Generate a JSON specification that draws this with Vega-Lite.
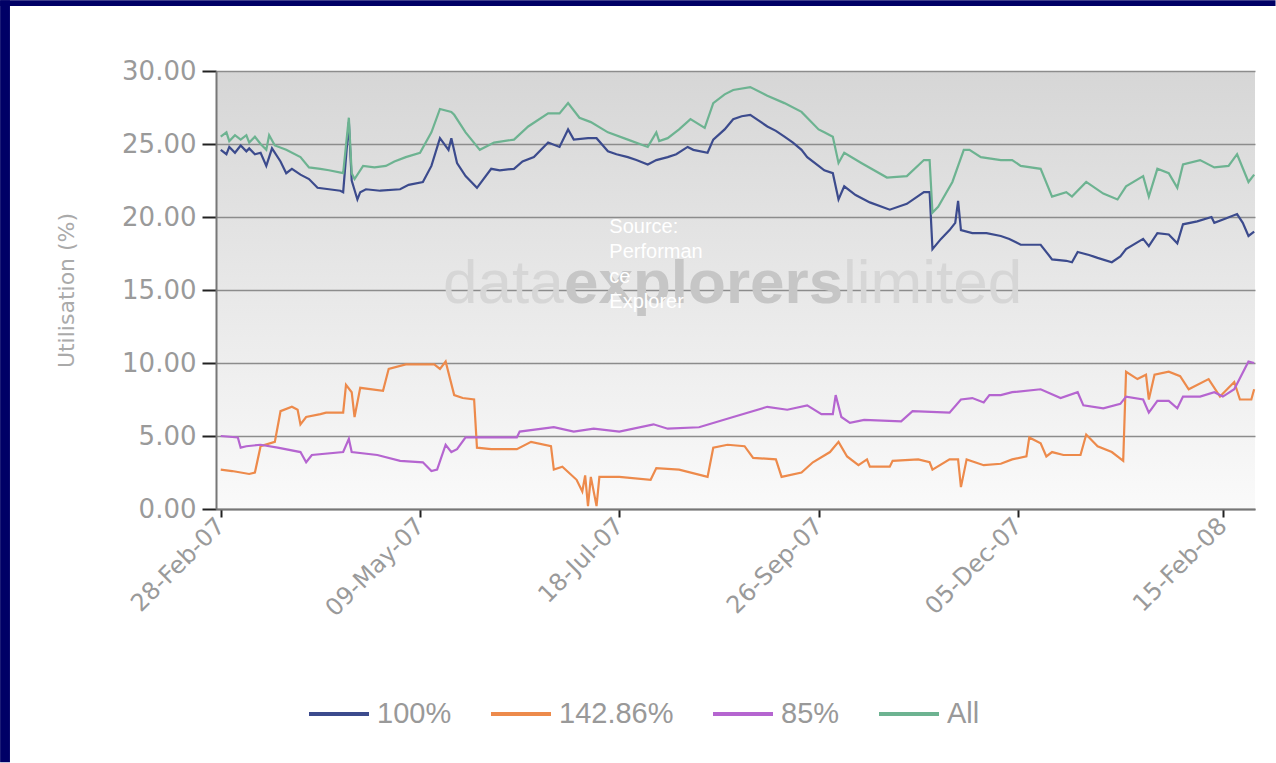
{
  "$schema": "https://vega.github.io/schema/vega-lite/v6.json",
  "autosize": {"type": "none"},
  "width": 1039,
  "height": 438,
  "padding": {"left": 216, "top": 71, "right": 21, "bottom": 254},
  "background": "#ffffff",
  "view": {"stroke": null, "fill": {"gradient": "linear", "x1": 0, "y1": 0, "x2": 0, "y2": 1, "stops": [{"offset": 0, "color": "#d6d6d6"}, {"offset": 0.5, "color": "#e8e8e8"}, {"offset": 1, "color": "#fafafa"}]}},
  "data": {"values": [
    {"s":"100%","d":"2007-02-28","v":24.6},{"s":"100%","d":"2007-03-02","v":24.3},{"s":"100%","d":"2007-03-03","v":24.8},{"s":"100%","d":"2007-03-05","v":24.4},{"s":"100%","d":"2007-03-07","v":24.9},{"s":"100%","d":"2007-03-09","v":24.5},{"s":"100%","d":"2007-03-10","v":24.7},{"s":"100%","d":"2007-03-12","v":24.3},{"s":"100%","d":"2007-03-14","v":24.4},{"s":"100%","d":"2007-03-16","v":23.5},{"s":"100%","d":"2007-03-18","v":24.7},{"s":"100%","d":"2007-03-21","v":23.8},{"s":"100%","d":"2007-03-23","v":23.0},{"s":"100%","d":"2007-03-25","v":23.3},{"s":"100%","d":"2007-03-28","v":22.9},{"s":"100%","d":"2007-03-31","v":22.6},{"s":"100%","d":"2007-04-03","v":22.0},{"s":"100%","d":"2007-04-07","v":21.9},{"s":"100%","d":"2007-04-11","v":21.8},{"s":"100%","d":"2007-04-12","v":21.7},{"s":"100%","d":"2007-04-14","v":26.5},{"s":"100%","d":"2007-04-15","v":22.5},{"s":"100%","d":"2007-04-17","v":21.2},{"s":"100%","d":"2007-04-18","v":21.7},{"s":"100%","d":"2007-04-20","v":21.9},{"s":"100%","d":"2007-04-25","v":21.8},{"s":"100%","d":"2007-05-02","v":21.9},{"s":"100%","d":"2007-05-05","v":22.2},{"s":"100%","d":"2007-05-10","v":22.4},{"s":"100%","d":"2007-05-13","v":23.5},{"s":"100%","d":"2007-05-16","v":25.4},{"s":"100%","d":"2007-05-19","v":24.6},{"s":"100%","d":"2007-05-20","v":25.4},{"s":"100%","d":"2007-05-22","v":23.7},{"s":"100%","d":"2007-05-25","v":22.8},{"s":"100%","d":"2007-05-29","v":22.0},{"s":"100%","d":"2007-06-03","v":23.3},{"s":"100%","d":"2007-06-06","v":23.2},{"s":"100%","d":"2007-06-11","v":23.3},{"s":"100%","d":"2007-06-14","v":23.8},{"s":"100%","d":"2007-06-18","v":24.1},{"s":"100%","d":"2007-06-23","v":25.1},{"s":"100%","d":"2007-06-27","v":24.8},{"s":"100%","d":"2007-06-30","v":26.0},{"s":"100%","d":"2007-07-02","v":25.3},{"s":"100%","d":"2007-07-07","v":25.4},{"s":"100%","d":"2007-07-10","v":25.4},{"s":"100%","d":"2007-07-14","v":24.5},{"s":"100%","d":"2007-07-17","v":24.3},{"s":"100%","d":"2007-07-21","v":24.1},{"s":"100%","d":"2007-07-24","v":23.9},{"s":"100%","d":"2007-07-28","v":23.6},{"s":"100%","d":"2007-07-31","v":23.9},{"s":"100%","d":"2007-08-04","v":24.1},{"s":"100%","d":"2007-08-07","v":24.3},{"s":"100%","d":"2007-08-11","v":24.8},{"s":"100%","d":"2007-08-13","v":24.6},{"s":"100%","d":"2007-08-18","v":24.4},{"s":"100%","d":"2007-08-20","v":25.3},{"s":"100%","d":"2007-08-24","v":26.0},{"s":"100%","d":"2007-08-27","v":26.7},{"s":"100%","d":"2007-08-30","v":26.9},{"s":"100%","d":"2007-09-02","v":27.0},{"s":"100%","d":"2007-09-05","v":26.6},{"s":"100%","d":"2007-09-08","v":26.2},{"s":"100%","d":"2007-09-11","v":25.9},{"s":"100%","d":"2007-09-14","v":25.5},{"s":"100%","d":"2007-09-17","v":25.1},{"s":"100%","d":"2007-09-20","v":24.6},{"s":"100%","d":"2007-09-22","v":24.1},{"s":"100%","d":"2007-09-26","v":23.5},{"s":"100%","d":"2007-09-28","v":23.2},{"s":"100%","d":"2007-10-01","v":23.0},{"s":"100%","d":"2007-10-03","v":21.2},{"s":"100%","d":"2007-10-05","v":22.1},{"s":"100%","d":"2007-10-09","v":21.5},{"s":"100%","d":"2007-10-14","v":21.0},{"s":"100%","d":"2007-10-21","v":20.5},{"s":"100%","d":"2007-10-27","v":20.9},{"s":"100%","d":"2007-11-02","v":21.7},{"s":"100%","d":"2007-11-04","v":21.7},{"s":"100%","d":"2007-11-05","v":17.8},{"s":"100%","d":"2007-11-08","v":18.5},{"s":"100%","d":"2007-11-11","v":19.1},{"s":"100%","d":"2007-11-13","v":19.6},{"s":"100%","d":"2007-11-14","v":21.1},{"s":"100%","d":"2007-11-15","v":19.1},{"s":"100%","d":"2007-11-19","v":18.9},{"s":"100%","d":"2007-11-24","v":18.9},{"s":"100%","d":"2007-11-29","v":18.7},{"s":"100%","d":"2007-12-02","v":18.5},{"s":"100%","d":"2007-12-06","v":18.1},{"s":"100%","d":"2007-12-13","v":18.1},{"s":"100%","d":"2007-12-17","v":17.1},{"s":"100%","d":"2007-12-22","v":17.0},{"s":"100%","d":"2007-12-24","v":16.9},{"s":"100%","d":"2007-12-26","v":17.6},{"s":"100%","d":"2007-12-30","v":17.4},{"s":"100%","d":"2008-01-02","v":17.2},{"s":"100%","d":"2008-01-07","v":16.9},{"s":"100%","d":"2008-01-10","v":17.3},{"s":"100%","d":"2008-01-12","v":17.8},{"s":"100%","d":"2008-01-18","v":18.5},{"s":"100%","d":"2008-01-20","v":18.0},{"s":"100%","d":"2008-01-23","v":18.9},{"s":"100%","d":"2008-01-27","v":18.8},{"s":"100%","d":"2008-01-30","v":18.2},{"s":"100%","d":"2008-02-01","v":19.5},{"s":"100%","d":"2008-02-06","v":19.7},{"s":"100%","d":"2008-02-11","v":20.0},{"s":"100%","d":"2008-02-12","v":19.6},{"s":"100%","d":"2008-02-16","v":19.9},{"s":"100%","d":"2008-02-20","v":20.2},{"s":"100%","d":"2008-02-22","v":19.6},{"s":"100%","d":"2008-02-24","v":18.7},{"s":"100%","d":"2008-02-26","v":19.0},
    {"s":"All","d":"2007-02-28","v":25.5},{"s":"All","d":"2007-03-02","v":25.8},{"s":"All","d":"2007-03-03","v":25.2},{"s":"All","d":"2007-03-05","v":25.6},{"s":"All","d":"2007-03-07","v":25.3},{"s":"All","d":"2007-03-09","v":25.6},{"s":"All","d":"2007-03-10","v":25.1},{"s":"All","d":"2007-03-12","v":25.5},{"s":"All","d":"2007-03-14","v":25.0},{"s":"All","d":"2007-03-16","v":24.6},{"s":"All","d":"2007-03-17","v":25.6},{"s":"All","d":"2007-03-19","v":24.9},{"s":"All","d":"2007-03-23","v":24.6},{"s":"All","d":"2007-03-28","v":24.1},{"s":"All","d":"2007-03-31","v":23.4},{"s":"All","d":"2007-04-04","v":23.3},{"s":"All","d":"2007-04-07","v":23.2},{"s":"All","d":"2007-04-12","v":23.0},{"s":"All","d":"2007-04-14","v":26.8},{"s":"All","d":"2007-04-15","v":23.0},{"s":"All","d":"2007-04-16","v":22.6},{"s":"All","d":"2007-04-19","v":23.5},{"s":"All","d":"2007-04-23","v":23.4},{"s":"All","d":"2007-04-27","v":23.5},{"s":"All","d":"2007-04-30","v":23.8},{"s":"All","d":"2007-05-04","v":24.1},{"s":"All","d":"2007-05-09","v":24.4},{"s":"All","d":"2007-05-13","v":25.8},{"s":"All","d":"2007-05-16","v":27.4},{"s":"All","d":"2007-05-20","v":27.2},{"s":"All","d":"2007-05-21","v":27.0},{"s":"All","d":"2007-05-25","v":25.8},{"s":"All","d":"2007-05-30","v":24.6},{"s":"All","d":"2007-06-04","v":25.1},{"s":"All","d":"2007-06-11","v":25.3},{"s":"All","d":"2007-06-16","v":26.2},{"s":"All","d":"2007-06-23","v":27.1},{"s":"All","d":"2007-06-27","v":27.1},{"s":"All","d":"2007-06-30","v":27.8},{"s":"All","d":"2007-07-04","v":26.8},{"s":"All","d":"2007-07-08","v":26.5},{"s":"All","d":"2007-07-14","v":25.8},{"s":"All","d":"2007-07-21","v":25.3},{"s":"All","d":"2007-07-28","v":24.8},{"s":"All","d":"2007-07-31","v":25.8},{"s":"All","d":"2007-08-01","v":25.2},{"s":"All","d":"2007-08-04","v":25.4},{"s":"All","d":"2007-08-08","v":26.0},{"s":"All","d":"2007-08-12","v":26.7},{"s":"All","d":"2007-08-17","v":26.1},{"s":"All","d":"2007-08-20","v":27.8},{"s":"All","d":"2007-08-24","v":28.4},{"s":"All","d":"2007-08-27","v":28.7},{"s":"All","d":"2007-09-02","v":28.9},{"s":"All","d":"2007-09-08","v":28.3},{"s":"All","d":"2007-09-14","v":27.8},{"s":"All","d":"2007-09-20","v":27.2},{"s":"All","d":"2007-09-26","v":26.0},{"s":"All","d":"2007-09-28","v":25.8},{"s":"All","d":"2007-10-01","v":25.5},{"s":"All","d":"2007-10-03","v":23.7},{"s":"All","d":"2007-10-05","v":24.4},{"s":"All","d":"2007-10-11","v":23.7},{"s":"All","d":"2007-10-20","v":22.7},{"s":"All","d":"2007-10-27","v":22.8},{"s":"All","d":"2007-11-02","v":23.9},{"s":"All","d":"2007-11-04","v":23.9},{"s":"All","d":"2007-11-05","v":20.3},{"s":"All","d":"2007-11-07","v":20.7},{"s":"All","d":"2007-11-12","v":22.4},{"s":"All","d":"2007-11-16","v":24.6},{"s":"All","d":"2007-11-18","v":24.6},{"s":"All","d":"2007-11-22","v":24.1},{"s":"All","d":"2007-11-29","v":23.9},{"s":"All","d":"2007-12-03","v":23.9},{"s":"All","d":"2007-12-06","v":23.5},{"s":"All","d":"2007-12-13","v":23.3},{"s":"All","d":"2007-12-17","v":21.4},{"s":"All","d":"2007-12-22","v":21.7},{"s":"All","d":"2007-12-24","v":21.4},{"s":"All","d":"2007-12-29","v":22.4},{"s":"All","d":"2008-01-04","v":21.6},{"s":"All","d":"2008-01-09","v":21.2},{"s":"All","d":"2008-01-12","v":22.1},{"s":"All","d":"2008-01-18","v":22.8},{"s":"All","d":"2008-01-20","v":21.4},{"s":"All","d":"2008-01-23","v":23.3},{"s":"All","d":"2008-01-27","v":23.0},{"s":"All","d":"2008-01-30","v":22.0},{"s":"All","d":"2008-02-01","v":23.6},{"s":"All","d":"2008-02-07","v":23.9},{"s":"All","d":"2008-02-12","v":23.4},{"s":"All","d":"2008-02-17","v":23.5},{"s":"All","d":"2008-02-20","v":24.3},{"s":"All","d":"2008-02-24","v":22.4},{"s":"All","d":"2008-02-26","v":22.9},
    {"s":"142.86%","d":"2007-02-28","v":2.7},{"s":"142.86%","d":"2007-03-04","v":2.6},{"s":"142.86%","d":"2007-03-10","v":2.4},{"s":"142.86%","d":"2007-03-12","v":2.5},{"s":"142.86%","d":"2007-03-14","v":4.3},{"s":"142.86%","d":"2007-03-19","v":4.6},{"s":"142.86%","d":"2007-03-21","v":6.7},{"s":"142.86%","d":"2007-03-25","v":7.0},{"s":"142.86%","d":"2007-03-27","v":6.8},{"s":"142.86%","d":"2007-03-28","v":5.8},{"s":"142.86%","d":"2007-03-30","v":6.3},{"s":"142.86%","d":"2007-04-04","v":6.5},{"s":"142.86%","d":"2007-04-06","v":6.6},{"s":"142.86%","d":"2007-04-12","v":6.6},{"s":"142.86%","d":"2007-04-13","v":8.5},{"s":"142.86%","d":"2007-04-15","v":8.0},{"s":"142.86%","d":"2007-04-16","v":6.3},{"s":"142.86%","d":"2007-04-18","v":8.3},{"s":"142.86%","d":"2007-04-26","v":8.1},{"s":"142.86%","d":"2007-04-28","v":9.6},{"s":"142.86%","d":"2007-05-04","v":9.9},{"s":"142.86%","d":"2007-05-14","v":9.9},{"s":"142.86%","d":"2007-05-16","v":9.6},{"s":"142.86%","d":"2007-05-18","v":10.1},{"s":"142.86%","d":"2007-05-21","v":7.8},{"s":"142.86%","d":"2007-05-24","v":7.6},{"s":"142.86%","d":"2007-05-28","v":7.5},{"s":"142.86%","d":"2007-05-29","v":4.2},{"s":"142.86%","d":"2007-06-03","v":4.1},{"s":"142.86%","d":"2007-06-12","v":4.1},{"s":"142.86%","d":"2007-06-17","v":4.6},{"s":"142.86%","d":"2007-06-24","v":4.3},{"s":"142.86%","d":"2007-06-25","v":2.7},{"s":"142.86%","d":"2007-06-28","v":2.9},{"s":"142.86%","d":"2007-07-03","v":2.0},{"s":"142.86%","d":"2007-07-05","v":1.2},{"s":"142.86%","d":"2007-07-06","v":2.3},{"s":"142.86%","d":"2007-07-07","v":0.2},{"s":"142.86%","d":"2007-07-08","v":2.2},{"s":"142.86%","d":"2007-07-10","v":0.2},{"s":"142.86%","d":"2007-07-11","v":2.2},{"s":"142.86%","d":"2007-07-18","v":2.2},{"s":"142.86%","d":"2007-07-29","v":2.0},{"s":"142.86%","d":"2007-07-31","v":2.8},{"s":"142.86%","d":"2007-08-08","v":2.7},{"s":"142.86%","d":"2007-08-18","v":2.2},{"s":"142.86%","d":"2007-08-20","v":4.2},{"s":"142.86%","d":"2007-08-25","v":4.4},{"s":"142.86%","d":"2007-08-31","v":4.3},{"s":"142.86%","d":"2007-09-03","v":3.5},{"s":"142.86%","d":"2007-09-11","v":3.4},{"s":"142.86%","d":"2007-09-13","v":2.2},{"s":"142.86%","d":"2007-09-20","v":2.5},{"s":"142.86%","d":"2007-09-24","v":3.2},{"s":"142.86%","d":"2007-09-30","v":3.9},{"s":"142.86%","d":"2007-10-03","v":4.6},{"s":"142.86%","d":"2007-10-06","v":3.6},{"s":"142.86%","d":"2007-10-10","v":3.0},{"s":"142.86%","d":"2007-10-13","v":3.4},{"s":"142.86%","d":"2007-10-14","v":2.9},{"s":"142.86%","d":"2007-10-21","v":2.9},{"s":"142.86%","d":"2007-10-22","v":3.3},{"s":"142.86%","d":"2007-10-31","v":3.4},{"s":"142.86%","d":"2007-11-04","v":3.2},{"s":"142.86%","d":"2007-11-05","v":2.7},{"s":"142.86%","d":"2007-11-11","v":3.4},{"s":"142.86%","d":"2007-11-14","v":3.4},{"s":"142.86%","d":"2007-11-15","v":1.5},{"s":"142.86%","d":"2007-11-17","v":3.4},{"s":"142.86%","d":"2007-11-23","v":3.0},{"s":"142.86%","d":"2007-11-29","v":3.1},{"s":"142.86%","d":"2007-12-03","v":3.4},{"s":"142.86%","d":"2007-12-08","v":3.6},{"s":"142.86%","d":"2007-12-09","v":4.9},{"s":"142.86%","d":"2007-12-13","v":4.5},{"s":"142.86%","d":"2007-12-15","v":3.6},{"s":"142.86%","d":"2007-12-17","v":3.9},{"s":"142.86%","d":"2007-12-21","v":3.7},{"s":"142.86%","d":"2007-12-27","v":3.7},{"s":"142.86%","d":"2007-12-29","v":5.1},{"s":"142.86%","d":"2008-01-02","v":4.3},{"s":"142.86%","d":"2008-01-07","v":3.9},{"s":"142.86%","d":"2008-01-11","v":3.3},{"s":"142.86%","d":"2008-01-12","v":9.4},{"s":"142.86%","d":"2008-01-16","v":8.9},{"s":"142.86%","d":"2008-01-19","v":9.2},{"s":"142.86%","d":"2008-01-20","v":7.5},{"s":"142.86%","d":"2008-01-22","v":9.2},{"s":"142.86%","d":"2008-01-27","v":9.4},{"s":"142.86%","d":"2008-01-31","v":9.1},{"s":"142.86%","d":"2008-02-03","v":8.2},{"s":"142.86%","d":"2008-02-10","v":8.9},{"s":"142.86%","d":"2008-02-14","v":7.7},{"s":"142.86%","d":"2008-02-19","v":8.7},{"s":"142.86%","d":"2008-02-21","v":7.5},{"s":"142.86%","d":"2008-02-25","v":7.5},{"s":"142.86%","d":"2008-02-26","v":8.2},
    {"s":"85%","d":"2007-02-28","v":5.0},{"s":"85%","d":"2007-03-06","v":4.9},{"s":"85%","d":"2007-03-07","v":4.2},{"s":"85%","d":"2007-03-09","v":4.3},{"s":"85%","d":"2007-03-14","v":4.4},{"s":"85%","d":"2007-03-20","v":4.2},{"s":"85%","d":"2007-03-28","v":3.9},{"s":"85%","d":"2007-03-30","v":3.2},{"s":"85%","d":"2007-04-01","v":3.7},{"s":"85%","d":"2007-04-12","v":3.9},{"s":"85%","d":"2007-04-14","v":4.8},{"s":"85%","d":"2007-04-15","v":3.9},{"s":"85%","d":"2007-04-24","v":3.7},{"s":"85%","d":"2007-05-02","v":3.3},{"s":"85%","d":"2007-05-10","v":3.2},{"s":"85%","d":"2007-05-13","v":2.6},{"s":"85%","d":"2007-05-15","v":2.7},{"s":"85%","d":"2007-05-18","v":4.4},{"s":"85%","d":"2007-05-20","v":3.9},{"s":"85%","d":"2007-05-22","v":4.1},{"s":"85%","d":"2007-05-25","v":4.9},{"s":"85%","d":"2007-05-29","v":4.9},{"s":"85%","d":"2007-06-12","v":4.9},{"s":"85%","d":"2007-06-13","v":5.3},{"s":"85%","d":"2007-06-25","v":5.6},{"s":"85%","d":"2007-07-02","v":5.3},{"s":"85%","d":"2007-07-09","v":5.5},{"s":"85%","d":"2007-07-18","v":5.3},{"s":"85%","d":"2007-07-30","v":5.8},{"s":"85%","d":"2007-08-04","v":5.5},{"s":"85%","d":"2007-08-15","v":5.6},{"s":"85%","d":"2007-08-27","v":6.3},{"s":"85%","d":"2007-09-08","v":7.0},{"s":"85%","d":"2007-09-15","v":6.8},{"s":"85%","d":"2007-09-22","v":7.1},{"s":"85%","d":"2007-09-27","v":6.5},{"s":"85%","d":"2007-10-01","v":6.5},{"s":"85%","d":"2007-10-02","v":7.8},{"s":"85%","d":"2007-10-04","v":6.3},{"s":"85%","d":"2007-10-07","v":5.9},{"s":"85%","d":"2007-10-12","v":6.1},{"s":"85%","d":"2007-10-25","v":6.0},{"s":"85%","d":"2007-10-29","v":6.7},{"s":"85%","d":"2007-11-11","v":6.6},{"s":"85%","d":"2007-11-15","v":7.5},{"s":"85%","d":"2007-11-19","v":7.6},{"s":"85%","d":"2007-11-23","v":7.3},{"s":"85%","d":"2007-11-25","v":7.8},{"s":"85%","d":"2007-11-29","v":7.8},{"s":"85%","d":"2007-12-03","v":8.0},{"s":"85%","d":"2007-12-13","v":8.2},{"s":"85%","d":"2007-12-20","v":7.6},{"s":"85%","d":"2007-12-26","v":8.0},{"s":"85%","d":"2007-12-28","v":7.1},{"s":"85%","d":"2008-01-04","v":6.9},{"s":"85%","d":"2008-01-10","v":7.2},{"s":"85%","d":"2008-01-12","v":7.7},{"s":"85%","d":"2008-01-18","v":7.5},{"s":"85%","d":"2008-01-20","v":6.6},{"s":"85%","d":"2008-01-23","v":7.4},{"s":"85%","d":"2008-01-27","v":7.4},{"s":"85%","d":"2008-01-30","v":6.9},{"s":"85%","d":"2008-02-01","v":7.7},{"s":"85%","d":"2008-02-07","v":7.7},{"s":"85%","d":"2008-02-12","v":8.0},{"s":"85%","d":"2008-02-15","v":7.7},{"s":"85%","d":"2008-02-19","v":8.2},{"s":"85%","d":"2008-02-24","v":10.1},{"s":"85%","d":"2008-02-26","v":10.0}
  ]},
  "layer": [
    {
      "data": {"values": [{}]},
      "mark": {"type": "text", "align": "left", "baseline": "alphabetic", "font": "Liberation Sans", "fontSize": 62, "color": "#d6d6d6"},
      "encoding": {"x": {"datum": {"year": 2007, "month": 5, "date": 17, "hours": 2, "utc": true}, "type": "temporal"}, "y": {"datum": 14.14, "type": "quantitative"}, "text": {"value": "data"}}
    },
    {
      "data": {"values": [{}]},
      "mark": {"type": "text", "align": "left", "baseline": "alphabetic", "font": "Liberation Sans", "fontSize": 62, "fontWeight": "bold", "color": "#c6c6c6"},
      "encoding": {"x": {"datum": {"year": 2007, "month": 6, "date": 28, "hours": 14, "utc": true}, "type": "temporal"}, "y": {"datum": 14.14, "type": "quantitative"}, "text": {"value": "explorers"}}
    },
    {
      "data": {"values": [{}]},
      "mark": {"type": "text", "align": "left", "baseline": "alphabetic", "font": "Liberation Sans", "fontSize": 62, "color": "#d6d6d6"},
      "encoding": {"x": {"datum": {"year": 2007, "month": 10, "date": 4, "hours": 14, "utc": true}, "type": "temporal"}, "y": {"datum": 14.14, "type": "quantitative"}, "text": {"value": "limited"}}
    },
    {
      "mark": {"type": "line", "strokeWidth": 2.2, "interpolate": "linear"},
      "encoding": {
        "x": {"field": "d", "type": "temporal", "scale": {"type": "utc", "domain": [1172476800000, 1204009200000]},
          "axis": {"values": [1172620800000, 1178668800000, 1184716800000, 1190764800000, 1196812800000, 1203033600000], "format": "%d-%b-%y", "title": null, "grid": false, "labelAngle": -45, "labelAlign": "right", "labelBaseline": "middle", "labelFont": "DejaVu Sans", "labelFontSize": 24, "labelColor": "#9a9a9a", "labelPadding": 5, "tickColor": "#222222", "tickSize": 8, "tickWidth": 2, "domainColor": "#777777", "domainWidth": 2}},
        "y": {"field": "v", "type": "quantitative", "scale": {"domain": [0, 30], "nice": false},
          "axis": {"values": [0, 5, 10, 15, 20, 25, 30], "format": ".2f", "grid": true, "gridColor": "#8c8c8c", "gridWidth": 1.5, "tickSize": 14, "tickColor": "#222222", "tickWidth": 2, "labelPadding": 6, "labelFont": "DejaVu Sans", "labelFontSize": 26, "labelColor": "#9a9a9a", "domainColor": "#777777", "domainWidth": 2, "title": "Utilisation (%)", "titleFont": "DejaVu Sans", "titleFontSize": 22, "titleFontWeight": "normal", "titleColor": "#aaaaaa", "titleX": -150, "titleY": 219, "titleAngle": -90, "titleAlign": "center", "titleBaseline": "middle"}},
        "color": {"field": "s", "type": "nominal", "scale": {"domain": ["100%", "142.86%", "85%", "All"], "range": ["#3c4b8d", "#ed8a4b", "#b565d0", "#6db391"]},
          "legend": {"orient": "none", "legendX": 91, "legendY": 611, "direction": "horizontal", "title": null, "symbolType": "stroke", "symbolSize": 3600, "symbolStrokeWidth": 4, "labelFont": "Liberation Sans", "labelFontSize": 29, "labelColor": "#999999", "labelOffset": 6, "columnPadding": 31}}
      }
    },
    {
      "data": {"values": [{}]},
      "mark": {"type": "text", "align": "left", "baseline": "alphabetic", "font": "Liberation Sans", "fontSize": 20, "lineHeight": 25, "color": "#ffffff"},
      "encoding": {"x": {"datum": {"year": 2007, "month": 7, "date": 14, "hours": 12, "utc": true}, "type": "temporal"}, "y": {"datum": 18.9, "type": "quantitative"}, "text": {"value": ["Source:", "Performan", "ce", "Explorer"]}}
    },
    {
      "data": {"values": [{}]},
      "mark": {"type": "rect", "color": "#000066"},
      "encoding": {"x": {"datum": {"year": 2006, "month": 12, "date": 12, "hours": 12, "utc": true}, "type": "temporal"}, "x2": {"datum": {"year": 2006, "month": 12, "date": 15, "hours": 23, "utc": true}}, "y": {"datum": -17.35, "type": "quantitative"}, "y2": {"datum": 34.85}}
    },
    {
      "data": {"values": [{}]},
      "mark": {"type": "rect", "color": "#000066"},
      "encoding": {"x": {"datum": {"year": 2006, "month": 12, "date": 12, "hours": 12, "utc": true}, "type": "temporal"}, "x2": {"datum": {"year": 2008, "month": 3, "date": 4, "hours": 12, "utc": true}}, "y": {"datum": 34.45, "type": "quantitative"}, "y2": {"datum": 34.85}}
    }
  ]
}
